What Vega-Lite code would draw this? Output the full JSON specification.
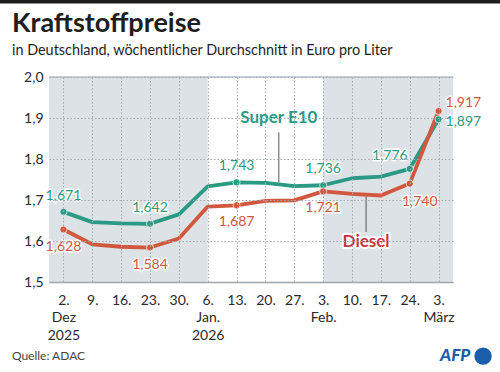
{
  "$schema": "https://vega.github.io/schema/vega-lite/v6.json",
  "width": 404,
  "height": 205,
  "autosize": {"type": "none"},
  "padding": {"left": 49, "top": 77, "right": 47, "bottom": 90},
  "background": "white",
  "config": {
    "font": "Lato",
    "view": {"stroke": null},
    "locale": {"number": {"decimal": ",", "thousands": ".", "grouping": [3], "currency": ["", " €"]}}
  },
  "title": {
    "text": "Kraftstoffpreise",
    "subtitle": "in Deutschland, wöchentlicher Durchschnitt in Euro pro Liter",
    "anchor": "start",
    "frame": "group",
    "dx": -37,
    "dy": 59,
    "offset": 0,
    "fontSize": 27,
    "fontWeight": "bold",
    "color": "#1e1e1e",
    "subtitleFontSize": 14.4,
    "subtitleColor": "#1e1e1e",
    "subtitlePadding": 6
  },
  "resolve": {"axis": {"x": "independent", "y": "independent"}},
  "datasets": {
    "preise": [
      {"datum": "2025-12-02", "sorte": "Super E10", "preis": 1.671, "beschriftet": true},
      {"datum": "2025-12-09", "sorte": "Super E10", "preis": 1.646, "beschriftet": false},
      {"datum": "2025-12-16", "sorte": "Super E10", "preis": 1.643, "beschriftet": false},
      {"datum": "2025-12-23", "sorte": "Super E10", "preis": 1.642, "beschriftet": true},
      {"datum": "2025-12-30", "sorte": "Super E10", "preis": 1.665, "beschriftet": false},
      {"datum": "2026-01-06", "sorte": "Super E10", "preis": 1.733, "beschriftet": false},
      {"datum": "2026-01-13", "sorte": "Super E10", "preis": 1.743, "beschriftet": true},
      {"datum": "2026-01-20", "sorte": "Super E10", "preis": 1.742, "beschriftet": false},
      {"datum": "2026-01-27", "sorte": "Super E10", "preis": 1.734, "beschriftet": false},
      {"datum": "2026-02-03", "sorte": "Super E10", "preis": 1.736, "beschriftet": true},
      {"datum": "2026-02-10", "sorte": "Super E10", "preis": 1.753, "beschriftet": false},
      {"datum": "2026-02-17", "sorte": "Super E10", "preis": 1.757, "beschriftet": false},
      {"datum": "2026-02-24", "sorte": "Super E10", "preis": 1.776, "beschriftet": true},
      {"datum": "2026-03-03", "sorte": "Super E10", "preis": 1.897, "beschriftet": true},
      {"datum": "2025-12-02", "sorte": "Diesel", "preis": 1.628, "beschriftet": true},
      {"datum": "2025-12-09", "sorte": "Diesel", "preis": 1.592, "beschriftet": false},
      {"datum": "2025-12-16", "sorte": "Diesel", "preis": 1.586, "beschriftet": false},
      {"datum": "2025-12-23", "sorte": "Diesel", "preis": 1.584, "beschriftet": true},
      {"datum": "2025-12-30", "sorte": "Diesel", "preis": 1.606, "beschriftet": false},
      {"datum": "2026-01-06", "sorte": "Diesel", "preis": 1.684, "beschriftet": false},
      {"datum": "2026-01-13", "sorte": "Diesel", "preis": 1.687, "beschriftet": true},
      {"datum": "2026-01-20", "sorte": "Diesel", "preis": 1.698, "beschriftet": false},
      {"datum": "2026-01-27", "sorte": "Diesel", "preis": 1.699, "beschriftet": false},
      {"datum": "2026-02-03", "sorte": "Diesel", "preis": 1.721, "beschriftet": true},
      {"datum": "2026-02-10", "sorte": "Diesel", "preis": 1.715, "beschriftet": false},
      {"datum": "2026-02-17", "sorte": "Diesel", "preis": 1.711, "beschriftet": false},
      {"datum": "2026-02-24", "sorte": "Diesel", "preis": 1.740, "beschriftet": true},
      {"datum": "2026-03-03", "sorte": "Diesel", "preis": 1.917, "beschriftet": true}
    ],
    "zeitraeume": [
      {"von": "2025-11-01", "bis": "2026-01-06"},
      {"von": "2026-02-03", "bis": "2026-03-31"}
    ],
    "anker": [{"anker": 1}]
  },
  "layer": [
    {
      "data": {"name": "zeitraeume"},
      "mark": {"type": "rect", "color": "#dde2e6", "clip": true},
      "encoding": {
        "x": {
          "field": "von",
          "type": "temporal",
          "scale": {
            "type": "utc",
            "domain": [
              {"year": 2025, "month": 11, "date": 28, "hours": 12, "utc": true},
              {"year": 2026, "month": 3, "date": 6, "hours": 12, "utc": true}
            ]
          },
          "axis": {
            "title": null,
            "grid": true,
            "gridColor": "#a3abb3",
            "gridDash": [1.5, 2],
            "gridWidth": 1,
            "ticks": false,
            "domain": true,
            "domainColor": "#9ea6ae",
            "domainWidth": 1.5,
            "zindex": 1,
            "labelFont": "Lato",
            "labelFontSize": 14,
            "labelColor": "#2a2a2a",
            "labelPadding": 11,
            "labelLineHeight": 17.5,
            "labelBaseline": "top",
            "labelOverlap": false,
            "labelFlush": false,
            "labelBound": false,
            "labelSeparation": 0,
            "values": [
              {"year": 2025, "month": 12, "date": 2, "utc": true},
              {"year": 2025, "month": 12, "date": 9, "utc": true},
              {"year": 2025, "month": 12, "date": 16, "utc": true},
              {"year": 2025, "month": 12, "date": 23, "utc": true},
              {"year": 2025, "month": 12, "date": 30, "utc": true},
              {"year": 2026, "month": 1, "date": 6, "utc": true},
              {"year": 2026, "month": 1, "date": 13, "utc": true},
              {"year": 2026, "month": 1, "date": 20, "utc": true},
              {"year": 2026, "month": 1, "date": 27, "utc": true},
              {"year": 2026, "month": 2, "date": 3, "utc": true},
              {"year": 2026, "month": 2, "date": 10, "utc": true},
              {"year": 2026, "month": 2, "date": 17, "utc": true},
              {"year": 2026, "month": 2, "date": 24, "utc": true},
              {"year": 2026, "month": 3, "date": 3, "utc": true}
            ],
            "labelExpr": "utcdate(datum.value) > 7 ? utcdate(datum.value) + '.' : [utcdate(datum.value) + '.', ['Jan.', 'Feb.', 'März', '', '', '', '', '', '', '', '', 'Dez'][utcmonth(datum.value)], utcmonth(datum.value) == 11 ? '2025' : (utcmonth(datum.value) == 0 ? '2026' : '')]"
          }
        },
        "x2": {"field": "bis"},
        "y": {
          "datum": 1.5,
          "type": "quantitative",
          "scale": {"domain": [1.5, 2.0], "zero": false, "nice": false},
          "axis": {
            "title": null,
            "grid": true,
            "gridColor": "#a3abb3",
            "gridDash": [1.5, 2],
            "gridWidth": 1,
            "zindex": 1,
            "ticks": false,
            "domain": false,
            "values": [1.5, 1.6, 1.7, 1.8, 1.9, 2.0],
            "format": ".1f",
            "labelFont": "Lato",
            "labelFontSize": 14,
            "labelColor": "#2a2a2a",
            "labelPadding": 6,
            "labelFlush": false,
            "labelOverlap": false
          }
        },
        "y2": {"datum": 2.0}
      }
    },
    {
      "data": {"name": "anker"},
      "mark": {"type": "rule", "color": "#b7bec6", "strokeWidth": 1.5},
      "encoding": {"y": {"datum": 2.0, "type": "quantitative", "axis": null}}
    },
    {
      "data": {"name": "anker"},
      "mark": {"type": "rule", "color": "#555555", "strokeWidth": 1},
      "encoding": {
        "x": {"datum": {"year": 2026, "month": 1, "date": 23, "hours": 6, "utc": true}, "type": "temporal", "axis": null},
        "y": {"datum": 1.865, "type": "quantitative", "axis": null},
        "y2": {"datum": 1.742}
      }
    },
    {
      "data": {"name": "anker"},
      "mark": {"type": "rule", "color": "#555555", "strokeWidth": 1},
      "encoding": {
        "x": {"datum": {"year": 2026, "month": 2, "date": 13, "hours": 10, "utc": true}, "type": "temporal", "axis": null},
        "y": {"datum": 1.709, "type": "quantitative", "axis": null},
        "y2": {"datum": 1.622}
      }
    },
    {
      "data": {"name": "preise"},
      "mark": {"type": "line", "strokeWidth": 3.8, "strokeJoin": "round", "strokeCap": "round"},
      "encoding": {
        "x": {"field": "datum", "type": "temporal", "axis": null},
        "y": {"field": "preis", "type": "quantitative", "axis": null},
        "color": {
          "field": "sorte",
          "type": "nominal",
          "scale": {"domain": ["Super E10", "Diesel"], "range": ["#2a9a84", "#d1583e"]},
          "legend": null
        }
      }
    },
    {
      "data": {"name": "preise"},
      "transform": [{"filter": "datum.beschriftet"}],
      "mark": {"type": "point", "filled": true, "size": 50, "opacity": 1, "stroke": "#ffffff", "strokeWidth": 1, "strokeOpacity": 0.7},
      "encoding": {
        "x": {"field": "datum", "type": "temporal", "axis": null},
        "y": {"field": "preis", "type": "quantitative", "axis": null},
        "fill": {"field": "sorte", "type": "nominal", "scale": {"domain": ["Super E10", "Diesel"], "range": ["#2a9a84", "#d1583e"]}, "legend": null}
      }
    },
    {
      "data": {"name": "preise"},
      "transform": [{"filter": "datum.beschriftet && datum.sorte == 'Super E10' && utcmonth(datum.datum) != 2 && utcdate(datum.datum) != 24"}],
      "encoding": {
        "x": {"field": "datum", "type": "temporal", "axis": null},
        "y": {"field": "preis", "type": "quantitative", "axis": null},
        "text": {"field": "preis", "type": "quantitative", "format": ".3f"}
      },
      "layer": [
        {"mark": {"type": "text", "dy": -16, "fontSize": 14, "stroke": "white", "strokeWidth": 3, "strokeJoin": "round", "fill": "white"}},
        {"mark": {"type": "text", "dy": -16, "fontSize": 14, "fill": "#2a9a84"}}
      ]
    },
    {
      "data": {"name": "preise"},
      "transform": [{"filter": "datum.beschriftet && datum.sorte == 'Diesel' && utcmonth(datum.datum) != 2 && utcdate(datum.datum) != 24"}],
      "encoding": {
        "x": {"field": "datum", "type": "temporal", "axis": null},
        "y": {"field": "preis", "type": "quantitative", "axis": null},
        "text": {"field": "preis", "type": "quantitative", "format": ".3f"}
      },
      "layer": [
        {"mark": {"type": "text", "dy": 17, "fontSize": 14, "stroke": "white", "strokeWidth": 3, "strokeJoin": "round", "fill": "white"}},
        {"mark": {"type": "text", "dy": 17, "fontSize": 14, "fill": "#d1583e"}}
      ]
    },
    {
      "data": {"name": "preise"},
      "transform": [{"filter": "datum.sorte == 'Super E10' && utcmonth(datum.datum) == 1 && utcdate(datum.datum) == 24"}],
      "encoding": {
        "x": {"field": "datum", "type": "temporal", "axis": null},
        "y": {"field": "preis", "type": "quantitative", "axis": null},
        "text": {"field": "preis", "type": "quantitative", "format": ".3f"}
      },
      "layer": [
        {"mark": {"type": "text", "align": "right", "dx": -2, "dy": -13, "fontSize": 14, "stroke": "white", "strokeWidth": 3, "strokeJoin": "round", "fill": "white"}},
        {"mark": {"type": "text", "align": "right", "dx": -2, "dy": -13, "fontSize": 14, "fill": "#2a9a84"}}
      ]
    },
    {
      "data": {"name": "preise"},
      "transform": [{"filter": "datum.sorte == 'Diesel' && utcmonth(datum.datum) == 1 && utcdate(datum.datum) == 24"}],
      "encoding": {
        "x": {"field": "datum", "type": "temporal", "axis": null},
        "y": {"field": "preis", "type": "quantitative", "axis": null},
        "text": {"field": "preis", "type": "quantitative", "format": ".3f"}
      },
      "layer": [
        {"mark": {"type": "text", "dx": 10, "dy": 18, "fontSize": 14, "stroke": "white", "strokeWidth": 3, "strokeJoin": "round", "fill": "white"}},
        {"mark": {"type": "text", "dx": 10, "dy": 18, "fontSize": 14, "fill": "#d1583e"}}
      ]
    },
    {
      "data": {"name": "preise"},
      "transform": [{"filter": "datum.sorte == 'Super E10' && utcmonth(datum.datum) == 2"}],
      "encoding": {
        "x": {"field": "datum", "type": "temporal", "axis": null},
        "y": {"field": "preis", "type": "quantitative", "axis": null},
        "text": {"field": "preis", "type": "quantitative", "format": ".3f"}
      },
      "layer": [
        {"mark": {"type": "text", "align": "left", "dx": 7, "dy": 3, "fontSize": 14, "stroke": "white", "strokeWidth": 3, "strokeJoin": "round", "fill": "white"}},
        {"mark": {"type": "text", "align": "left", "dx": 7, "dy": 3, "fontSize": 14, "fill": "#2a9a84"}}
      ]
    },
    {
      "data": {"name": "preise"},
      "transform": [{"filter": "datum.sorte == 'Diesel' && utcmonth(datum.datum) == 2"}],
      "encoding": {
        "x": {"field": "datum", "type": "temporal", "axis": null},
        "y": {"field": "preis", "type": "quantitative", "axis": null},
        "text": {"field": "preis", "type": "quantitative", "format": ".3f"}
      },
      "layer": [
        {"mark": {"type": "text", "align": "left", "dx": 7, "dy": -8, "fontSize": 14, "stroke": "white", "strokeWidth": 3, "strokeJoin": "round", "fill": "white"}},
        {"mark": {"type": "text", "align": "left", "dx": 7, "dy": -8, "fontSize": 14, "fill": "#d1583e"}}
      ]
    },
    {
      "data": {"name": "anker"},
      "encoding": {
        "x": {"datum": {"year": 2026, "month": 1, "date": 23, "hours": 6, "utc": true}, "type": "temporal", "axis": null},
        "y": {"datum": 1.9, "type": "quantitative", "axis": null},
        "text": {"value": "Super E10"}
      },
      "layer": [
        {"mark": {"type": "text", "fontSize": 17, "fontWeight": "bold", "stroke": "white", "strokeWidth": 4, "strokeJoin": "round", "fill": "white"}},
        {"mark": {"type": "text", "fontSize": 17, "fontWeight": "bold", "fill": "#2a9a84"}}
      ]
    },
    {
      "data": {"name": "anker"},
      "encoding": {
        "x": {"datum": {"year": 2026, "month": 2, "date": 13, "hours": 10, "utc": true}, "type": "temporal", "axis": null},
        "y": {"datum": 1.597, "type": "quantitative", "axis": null},
        "text": {"value": "Diesel"}
      },
      "layer": [
        {"mark": {"type": "text", "fontSize": 17, "fontWeight": "bold", "stroke": "white", "strokeWidth": 4, "strokeJoin": "round", "fill": "white"}},
        {"mark": {"type": "text", "fontSize": 17, "fontWeight": "bold", "fill": "#c8323e"}}
      ]
    },
    {
      "data": {"name": "anker"},
      "mark": {"type": "text", "align": "left", "fontSize": 12, "fill": "#444444"},
      "encoding": {
        "x": {"datum": {"year": 2025, "month": 11, "date": 19, "hours": 12, "utc": true}, "type": "temporal", "axis": null},
        "y": {"datum": 1.319, "type": "quantitative", "axis": null},
        "text": {"value": "Quelle: ADAC"}
      }
    },
    {
      "data": {"name": "anker"},
      "mark": {"type": "text", "align": "center", "fontSize": 17, "fontWeight": 900, "fontStyle": "italic", "fill": "#1b5ea9"},
      "encoding": {
        "x": {"datum": {"year": 2026, "month": 3, "date": 7, "utc": true}, "type": "temporal", "axis": null},
        "y": {"datum": 1.319, "type": "quantitative", "axis": null},
        "text": {"value": "AFP"}
      }
    },
    {
      "data": {"name": "anker"},
      "mark": {"type": "circle", "size": 300, "opacity": 1, "fill": "#1b5ea9"},
      "encoding": {
        "x": {"datum": {"year": 2026, "month": 3, "date": 13, "hours": 19, "utc": true}, "type": "temporal", "axis": null},
        "y": {"datum": 1.319, "type": "quantitative", "axis": null}
      }
    },
    {
      "data": {"name": "anker"},
      "mark": {"type": "rect", "fill": "#1e1e1e"},
      "encoding": {
        "x": {"datum": {"year": 2025, "month": 11, "date": 1, "utc": true}, "type": "temporal", "axis": null},
        "x2": {"datum": {"year": 2026, "month": 4, "date": 1, "utc": true}},
        "y": {"datum": 2.1883, "type": "quantitative", "axis": null},
        "y2": {"datum": 2.1795}
      }
    }
  ]
}
